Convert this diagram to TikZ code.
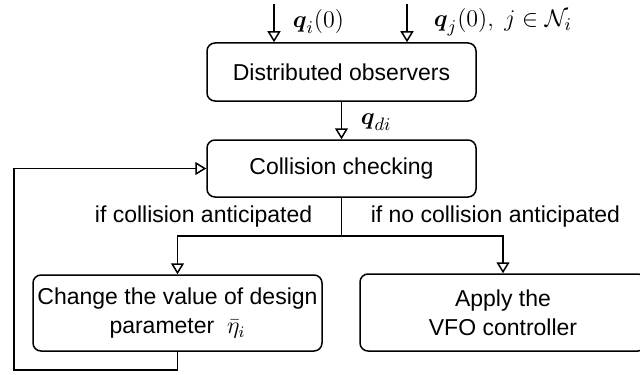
\documentclass[tikz,border=0pt]{standalone}
\usepackage{amsmath,amssymb}
\usepackage[no-math]{fontspec}
\setmainfont{Liberation Sans}
\usepackage{tikz}
\usetikzlibrary{arrows.meta,calc,positioning}

\begin{document}
\begin{tikzpicture}[x=0.5pt,y=-0.5pt,line width=0.75pt,
    >={Triangle[open,length=5.5pt,width=6.5pt]},
    blockbox/.style={draw,rounded corners=4pt,align=center,inner sep=0pt,
        font=\fontsize{11.5}{14.5}\selectfont},
    branchlabel/.style={inner sep=0pt,font=\fontsize{11.5}{13}\selectfont},
    mathlabel/.style={inner sep=0pt,anchor=west,font=\fontsize{12.5}{15}\selectfont}]
    \useasboundingbox (0,0) rectangle (640,374);

    % Blocks
    \node[blockbox,minimum width=134.5pt,minimum height=29pt] (obs) at (341.5,72) {Distributed observers};
    \node[blockbox,minimum width=134.5pt,minimum height=28.5pt] (check) at (341.5,168.5) {Collision checking};
    \node[blockbox,minimum width=144.5pt,minimum height=38pt] (change) at (177.5,313)
        {Change the value of design\\parameter~ $\bar{\eta}_i$};
    \node[blockbox,minimum width=143pt,minimum height=38.5pt] (apply) at (503,312.5)
        {Apply the\\VFO controller};

    % Inputs
    \coordinate (qiin) at (274,4);
    \coordinate (qjin) at (407,4);
    \draw[->] (qiin) -- (qiin |- obs.north);
    \draw[->] (qjin) -- (qjin |- obs.north);
    \node[mathlabel] (qi) at (292,22) {$\boldsymbol{q}_i(0)$};
    \node[mathlabel] (qj) at (433,22) {$\boldsymbol{q}_j(0),\; j\in\mathcal{N}_i$};

    % Observer output
    \draw[->] (obs.south) -- (check.north);
    \node[mathlabel] (qdi) at (360,122) {$\boldsymbol{q}_{di}$};

    % Branches
    \coordinate (split) at (341.5,236);
    \draw (check.south) -- (split);
    \draw[->] (split) -| (change.north);
    \draw[->] (split) -| (apply.north);
    \node[branchlabel,anchor=east] (yes) at (313,217) {if collision anticipated};
    \node[branchlabel,anchor=west] (no) at (370,217) {if no collision anticipated};

    % Feedback
    \coordinate (fb) at (14,370);
    \draw[->] (change.south) |- (fb) |- (check.west);
\end{tikzpicture}
\end{document}
